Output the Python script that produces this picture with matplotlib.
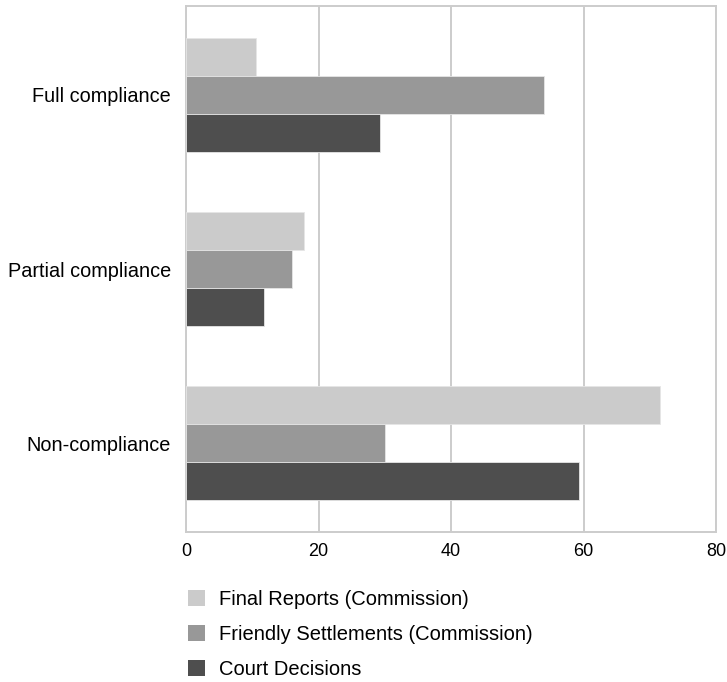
import matplotlib
matplotlib.use("Agg")
import matplotlib.pyplot as plt
import numpy as np
from matplotlib.patches import Patch

plt.rcParams["font.family"] = ["Liberation Sans", "DejaVu Sans"]

categories = ["Full compliance", "Partial compliance", "Non-compliance"]
series = ["Final Reports (Commission)", "Friendly Settlements (Commission)", "Court Decisions"]
final_reports = [10.5, 17.8, 71.5]
friendly_settlements = [54.0, 16.0, 30.0]
court_decisions = [29.2, 11.8, 59.3]
colors = ["#cbcbcb", "#989898", "#4e4e4e"]
xticks = [0, 20, 40, 60, 80]

fig = plt.figure(figsize=(7.27, 6.82), dpi=100)
ax = fig.add_axes([0.256, 0.22, 0.729, 0.771])

y = np.arange(len(categories))
h = 0.218
for i, (vals, c) in enumerate(zip([final_reports, friendly_settlements, court_decisions], colors)):
    ax.barh(y + (i - 1) * h, vals, height=h, color=c, edgecolor="#e6e6e6",
            linewidth=0.6, zorder=3)

ax.set_xlim(0, 80)
ax.set_ylim(2.51, -0.51)
ax.set_xticks(xticks)
ax.set_xticklabels([str(t) for t in xticks], fontsize=13)
ax.set_yticks(y)
ax.set_yticklabels(categories, fontsize=14.3)
ax.tick_params(axis="y", length=0, pad=11)
ax.tick_params(axis="x", length=0, pad=8)
ax.grid(axis="x", color="#cccccc", linewidth=1.4, zorder=0)
for s in ax.spines.values():
    s.set_color("#cccccc")
    s.set_linewidth(1.4)

handles = [Patch(facecolor=c, edgecolor="none") for c in colors]
fig.legend(handles, series, loc="upper left", bbox_to_anchor=(0.247, 0.147),
           frameon=False, fontsize=14.5, handlelength=0.85, handleheight=0.85,
           labelspacing=0.8, handletextpad=0.7, borderaxespad=0)

fig.savefig("out.png", dpi=100)
